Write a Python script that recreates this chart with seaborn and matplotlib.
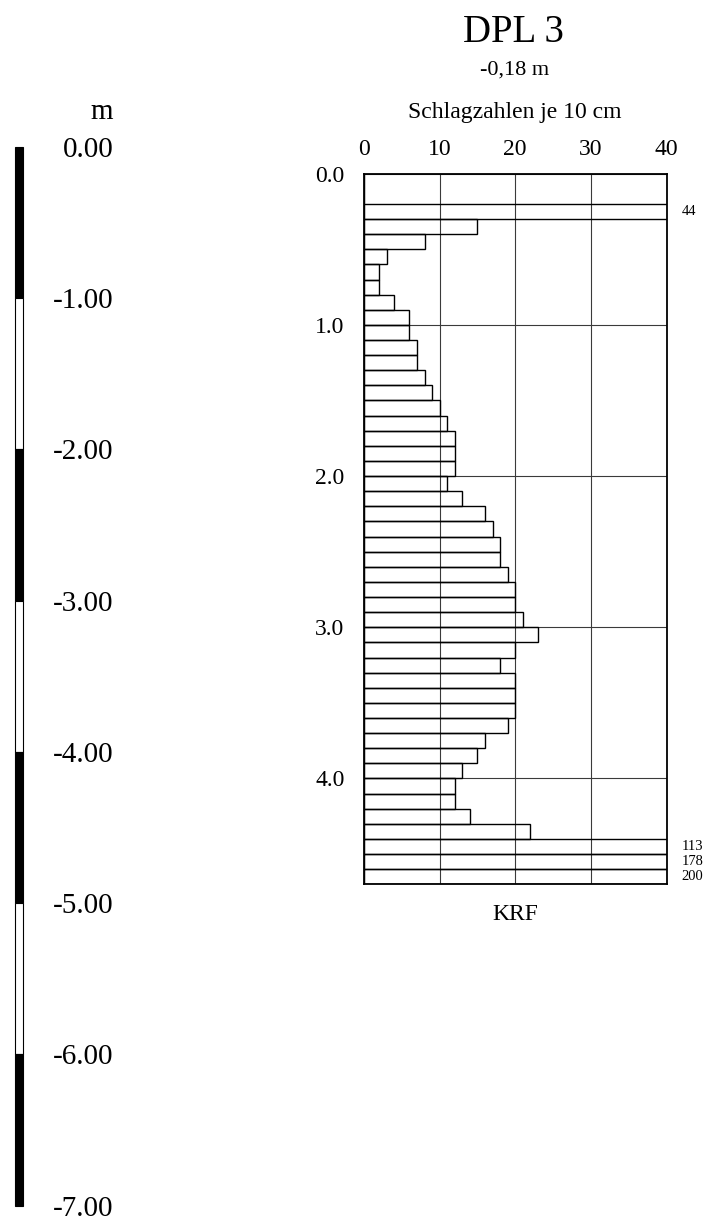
import numpy as np
import pandas as pd
import matplotlib
matplotlib.use("Agg")
import matplotlib.pyplot as plt
import seaborn as sns

# ---------------- data ----------------
title = "DPL 3"
elevation = "-0,18 m"
x_title = "Schlagzahlen je 10 cm"
x_label = "KRF"
x_ticks = [0, 10, 20, 30, 40]
depth_ticks = [0.0, 1.0, 2.0, 3.0, 4.0]
step = 0.1  # 10 cm per row
blows = [0, 0, 44, 15, 8, 3, 2, 2, 4, 6,
         6, 7, 7, 8, 9, 10, 11, 12, 12, 12,
         11, 13, 16, 17, 18, 18, 19, 20, 20, 21,
         23, 20, 18, 20, 20, 20, 19, 16, 15, 13,
         12, 12, 14, 22, 113, 178, 200]
scale_unit = "m"
scale_levels = [0, -1, -2, -3, -4, -5, -6, -7]
scale_labels = ["0.00", "-1.00", "-2.00", "-3.00", "-4.00", "-5.00", "-6.00", "-7.00"]
x_max = 40

# ---------------- style ----------------
sns.set_theme(style="white")
plt.rcParams["font.family"] = ["Liberation Serif", "DejaVu Serif"]

W, H = 710, 1223
fig = plt.figure(figsize=(W / 100, H / 100), dpi=100)


def px(x0, y0, x1, y1):
    return [x0 / W, 1 - y1 / H, (x1 - x0) / W, (y1 - y0) / H]


# ---------------- main chart ----------------
ax = fig.add_axes(px(364, 173.7, 666.5, 884.3))
n = len(blows)
df = pd.DataFrame({"depth": np.round(np.arange(n) * step + step / 2, 3),
                   "blows": blows})
sns.barplot(data=df, x="blows", y="depth", orient="h", native_scale=True,
            width=1.0, fill=False, color="black", linewidth=1.0,
            errorbar=None, ax=ax)

ax.set_xlim(0, x_max)
ax.set_ylim(n * step, 0)
ax.set_xticks(x_ticks)
ax.set_xticklabels([str(t) for t in x_ticks])
ax.set_yticks(depth_ticks)
ax.set_yticklabels([f"{d:.1f}" for d in depth_ticks])
ax.xaxis.tick_top()
ax.tick_params(axis="x", length=0, pad=10, labelsize=17, colors="black")
ax.tick_params(axis="y", length=0, pad=14, labelsize=17, colors="black")
for lab in ax.get_yticklabels():
    lab.set_verticalalignment("center_baseline")
ax.grid(True, color="#3a3a3a", linewidth=0.8)
for s in ax.spines.values():
    s.set_visible(True)
    s.set_color("black")
    s.set_linewidth(1.3)
ax.set_ylabel("")
ax.xaxis.set_label_position("bottom")
ax.set_xlabel(x_label, fontsize=17, labelpad=14, color="black")

for i, v in enumerate(blows):
    if v > x_max:
        ax.annotate(str(v), xy=(1, (i + 0.5) * step),
                    xycoords=("axes fraction", "data"),
                    xytext=(11, 0), textcoords="offset points",
                    ha="left", va="center", fontsize=10.5, color="black")

# ---------------- depth scale ----------------
sax = fig.add_axes(px(15, 147, 23, 1205.7))
bottoms = scale_levels[1:]
colors = ["black" if k % 2 == 0 else "white" for k in range(len(bottoms))]
bars = sax.bar(x=[0.5] * len(bottoms), height=[1] * len(bottoms), bottom=bottoms,
               width=1.0, color=colors, edgecolor="black", linewidth=0.8)
for b in bars:
    b.set_clip_on(False)
sax.set_xlim(0, 1)
sax.set_ylim(scale_levels[-1], scale_levels[0])
sax.set_xticks([])
sax.set_yticks(scale_levels)
sax.set_yticklabels(scale_labels)
sax.yaxis.tick_right()
sax.tick_params(axis="y", length=0, pad=65, labelsize=21, colors="black")
for lab in sax.get_yticklabels():
    lab.set_horizontalalignment("right")
    lab.set_verticalalignment("center_baseline")
for s in sax.spines.values():
    s.set_visible(False)

# ---------------- texts ----------------
fig.text(513 / W, 1 - 41.5 / H, title, ha="center", va="baseline",
         fontsize=28, color="black")
fig.text(515 / W, 1 - 75 / H, elevation, ha="center", va="baseline",
         fontsize=16, color="black")
fig.text(515 / W, 1 - 118 / H, x_title, ha="center", va="baseline",
         fontsize=17, color="black")
fig.text(113 / W, 1 - 119 / H, scale_unit, ha="right", va="baseline",
         fontsize=21, color="black")

fig.savefig("out.png", dpi=100)
